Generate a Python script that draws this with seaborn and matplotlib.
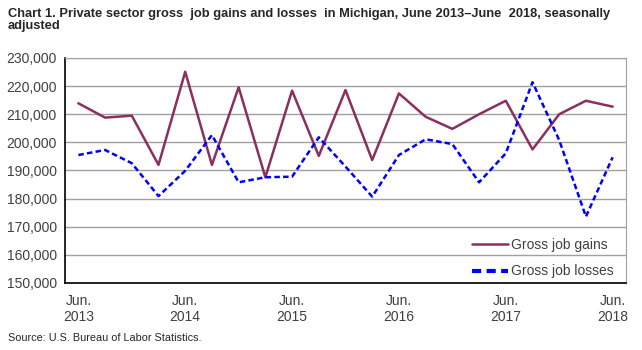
import numpy as np
import pandas as pd
import matplotlib
matplotlib.use("Agg")
import matplotlib.pyplot as plt
from matplotlib import font_manager
import seaborn as sns

quarters = [
    "Jun 2013", "Sep 2013", "Dec 2013", "Mar 2014",
    "Jun 2014", "Sep 2014", "Dec 2014", "Mar 2015",
    "Jun 2015", "Sep 2015", "Dec 2015", "Mar 2016",
    "Jun 2016", "Sep 2016", "Dec 2016", "Mar 2017",
    "Jun 2017", "Sep 2017", "Dec 2017", "Mar 2018",
    "Jun 2018",
]
gains = [213900, 208800, 209500, 192000, 225100, 192000, 219600, 187600,
         218400, 195200, 218600, 193700, 217400, 209100, 204800, 210000,
         214800, 197500, 210000, 214800, 212700]
losses = [195500, 197300, 192600, 180900, 189900, 202600, 185800, 187600,
          187800, 201800, 191400, 180700, 195500, 201100, 199400, 185800,
          196100, 221400, 200800, 173600, 194700]
tick_labels = ["Jun.\n2013", "Jun.\n2014", "Jun.\n2015", "Jun.\n2016",
               "Jun.\n2017", "Jun.\n2018"]

df = pd.DataFrame({
    "idx": list(range(len(quarters))) * 2,
    "value": gains + losses,
    "series": ["Gross job gains"] * len(gains) + ["Gross job losses"] * len(losses),
})

sns.set_style("white")
plt.rcParams["font.family"] = ["Liberation Sans", "DejaVu Sans"]

installed = {f.name for f in font_manager.fontManager.ttflist}
narrow = "Liberation Sans Narrow" in installed
title_family = ["Liberation Sans Narrow", "DejaVu Sans"] if narrow else ["Liberation Sans", "DejaVu Sans"]

fig = plt.figure(figsize=(6.42, 3.5), dpi=100)
ax = fig.add_axes([65 / 642, 1 - 283 / 350, (626 - 65) / 642, (283 - 58) / 350])

sns.lineplot(data=df, x="idx", y="value", hue="series", style="series",
             palette={"Gross job gains": "#8B2F5E", "Gross job losses": "#0000FF"},
             dashes={"Gross job gains": "", "Gross job losses": (2.2, 1.3)},
             ax=ax)
for line in ax.get_lines():
    if line.get_label() == "Gross job losses":
        line.set_linewidth(3.0)
    else:
        line.set_linewidth(1.8)

ax.set_xlim(-0.5, len(quarters) - 0.5)
ax.set_ylim(150000, 230000)
ax.set_yticks(np.arange(150000, 230001, 10000))
ax.yaxis.set_major_formatter(matplotlib.ticker.FuncFormatter(lambda v, p: f"{int(v):,}"))
ax.yaxis.grid(True, color="#A0A0A0", linewidth=1)
ax.tick_params(axis="y", length=0, labelsize=10, labelcolor="#404040", pad=6)

ax.set_xticks(range(0, len(quarters), 4))
ax.set_xticklabels(tick_labels)
ax.set_xticks(np.arange(-0.5, len(quarters), 1), minor=True)
ax.tick_params(axis="x", which="major", length=0, labelsize=10, labelcolor="#404040", pad=8)
ax.tick_params(axis="x", which="minor", length=5, width=1, color="black", direction="out")
ax.set_xlabel("")
ax.set_ylabel("")

for side in ["top", "right"]:
    ax.spines[side].set_color("#A0A0A0")
for side in ["left", "bottom"]:
    ax.spines[side].set_color("black")
    ax.spines[side].set_linewidth(1.2)

handles, labels = ax.get_legend_handles_labels()
ax.legend(handles, labels, loc="lower right", frameon=False, fontsize=10,
          handlelength=2.6, handletextpad=0.2, labelspacing=0.9,
          labelcolor="#404040", bbox_to_anchor=(1.0, -0.035))

fig.text(8 / 642, 1 - 8 / 350,
         "Chart 1. Private sector gross  job gains and losses  in Michigan, June 2013\u2013June  2018, seasonally\nadjusted",
         ha="left", va="top", fontsize=10.5 if narrow else 9.3, fontweight="bold",
         linespacing=1.0, family=title_family)
fig.text(8 / 642, 1 - 343 / 350, "Source: U.S. Bureau of Labor Statistics.",
         ha="left", va="bottom", fontsize=8.5 if narrow else 7.8, family=title_family)

fig.savefig("out.png", dpi=100)
